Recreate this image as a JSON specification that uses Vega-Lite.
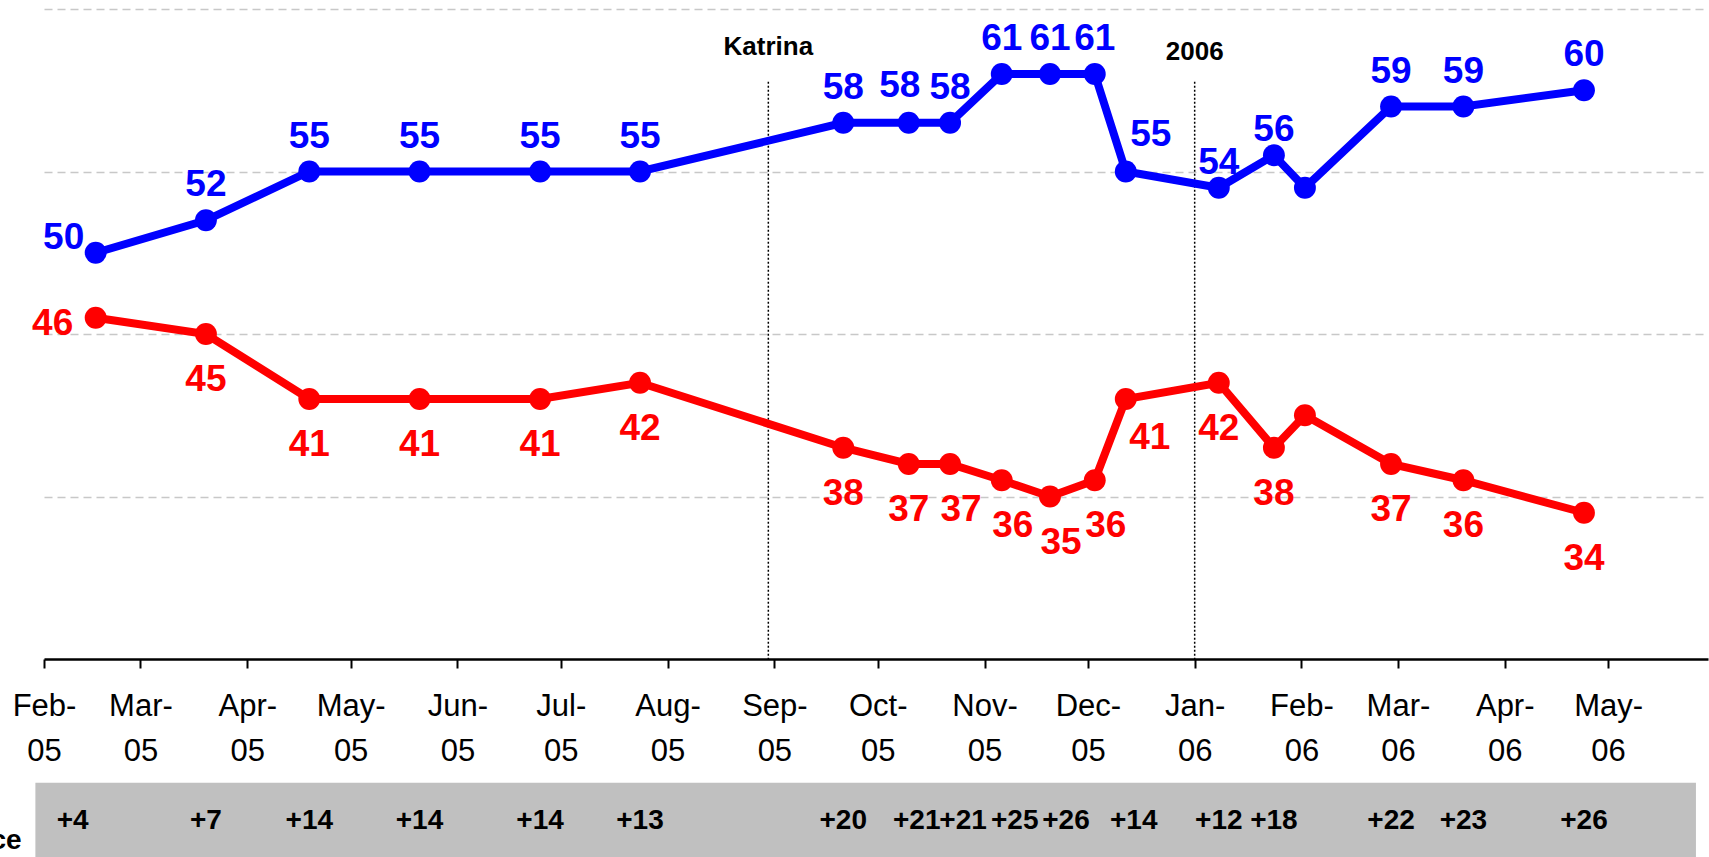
{
  "$schema": "https://vega.github.io/schema/vega-lite/v6.json",
  "width": 1664,
  "height": 650,
  "autosize": {"type": "none"},
  "padding": {"left": 44, "top": 9, "right": 1, "bottom": 198},
  "background": "white",
  "config": {"view": {"stroke": null}, "font": "Liberation Sans"},
  "data": {
    "values": [
      {"date": "2005-02-16", "dem": 50, "rep": 46, "gap": "+4"},
      {"date": "2005-03-20", "dem": 52, "rep": 45, "gap": "+7"},
      {"date": "2005-04-19", "dem": 55, "rep": 41, "gap": "+14"},
      {"date": "2005-05-21", "dem": 55, "rep": 41, "gap": "+14"},
      {"date": "2005-06-25", "dem": 55, "rep": 41, "gap": "+14"},
      {"date": "2005-07-24", "dem": 55, "rep": 42, "gap": "+13"},
      {"date": "2005-09-21", "dem": 58, "rep": 38, "gap": "+20"},
      {"date": "2005-10-10", "dem": 58, "rep": 37, "gap": "+21"},
      {"date": "2005-10-22", "dem": 58, "rep": 37, "gap": "+21"},
      {"date": "2005-11-06", "dem": 61, "rep": 36, "gap": "+25"},
      {"date": "2005-11-20", "dem": 61, "rep": 35, "gap": "+26"},
      {"date": "2005-12-03", "dem": 61, "rep": 36, "gap": null},
      {"date": "2005-12-12", "dem": 55, "rep": 41, "gap": "+14"},
      {"date": "2006-01-08", "dem": 54, "rep": 42, "gap": "+12"},
      {"date": "2006-01-24", "dem": 56, "rep": 38, "gap": "+18"},
      {"date": "2006-02-02", "dem": 54, "rep": 40, "gap": null},
      {"date": "2006-02-27", "dem": 59, "rep": 37, "gap": "+22"},
      {"date": "2006-03-20", "dem": 59, "rep": 36, "gap": "+23"},
      {"date": "2006-04-24", "dem": 60, "rep": 34, "gap": "+26"}
    ],
    "format": {"parse": {"date": "date"}}
  },
  "encoding": {
    "x": {
      "field": "date",
      "type": "temporal",
      "scale": {
        "type": "utc",
        "domain": [
          {"year": 2005, "month": 2, "date": 1, "utc": true},
          {"year": 2006, "month": 5, "date": 30, "utc": true}
        ]
      },
      "axis": {
        "values": [
          {"year": 2005, "month": 2, "date": 1, "utc": true},
          {"year": 2005, "month": 3, "date": 1, "utc": true},
          {"year": 2005, "month": 4, "date": 1, "utc": true},
          {"year": 2005, "month": 5, "date": 1, "utc": true},
          {"year": 2005, "month": 6, "date": 1, "utc": true},
          {"year": 2005, "month": 7, "date": 1, "utc": true},
          {"year": 2005, "month": 8, "date": 1, "utc": true},
          {"year": 2005, "month": 9, "date": 1, "utc": true},
          {"year": 2005, "month": 10, "date": 1, "utc": true},
          {"year": 2005, "month": 11, "date": 1, "utc": true},
          {"year": 2005, "month": 12, "date": 1, "utc": true},
          {"year": 2006, "month": 1, "date": 1, "utc": true},
          {"year": 2006, "month": 2, "date": 1, "utc": true},
          {"year": 2006, "month": 3, "date": 1, "utc": true},
          {"year": 2006, "month": 4, "date": 1, "utc": true},
          {"year": 2006, "month": 5, "date": 1, "utc": true}
        ],
        "labelExpr": "[utcFormat(datum.value, '%b') + '-', utcFormat(datum.value, '%y')]",
        "labelFont": "Liberation Sans",
        "labelFontSize": 31,
        "labelColor": "black",
        "labelBaseline": "top",
        "labelLineHeight": 45,
        "labelPadding": 23,
        "labelAngle": 0,
        "labelOverlap": false,
        "labelFlush": false,
        "labelBound": false,
        "tickSize": 9,
        "tickWidth": 2,
        "tickColor": "black",
        "domainColor": "black",
        "domainWidth": 2.5,
        "grid": false,
        "title": null
      }
    }
  },
  "layer": [
    {
      "data": {"values": [{"d": "2005-08-30T06:00:00Z"}, {"d": "2006-01-01T00:00:00Z"}], "format": {"parse": {"d": "date"}}},
      "mark": {"type": "rule", "color": "black", "strokeWidth": 1.5, "strokeDash": [2, 2]},
      "encoding": {
        "x": {"field": "d", "type": "temporal"},
        "y": {"datum": 60.53, "type": "quantitative", "scale": {"domain": [25, 65], "nice": false, "zero": false}, "axis": {"values": [35, 45, 55, 65], "grid": true, "gridDash": [8, 5], "gridColor": "#c8c8c8", "gridWidth": 1.5, "labels": false, "ticks": false, "domain": false, "title": null}},
        "y2": {"datum": 25}
      }
    },
    {
      "mark": {"type": "line", "color": "#0000FF", "strokeWidth": 8},
      "encoding": {"y": {"field": "dem", "type": "quantitative"}}
    },
    {
      "mark": {"type": "point", "filled": true, "color": "#0000FF", "size": 480, "opacity": 1},
      "encoding": {"y": {"field": "dem", "type": "quantitative"}}
    },
    {
      "mark": {"type": "line", "color": "#FF0000", "strokeWidth": 8},
      "encoding": {"y": {"field": "rep", "type": "quantitative"}}
    },
    {
      "mark": {"type": "point", "filled": true, "color": "#FF0000", "size": 480, "opacity": 1},
      "encoding": {"y": {"field": "rep", "type": "quantitative"}}
    },
    {
      "transform": [{"filter": "indexof(['2005-02-16','2005-10-10','2005-12-12','2006-02-02','2006-01-08','2006-01-24'], utcFormat(datum.date, '%Y-%m-%d')) < 0"}],
      "mark": {"type": "text", "color": "#0000FF", "fontSize": 37, "fontWeight": "bold", "baseline": "middle", "dy": -35},
      "encoding": {"y": {"field": "dem", "type": "quantitative"}, "text": {"field": "dem"}}
    },
    {
      "transform": [{"filter": "utcFormat(datum.date, '%Y-%m-%d') === '2005-10-10'"}],
      "mark": {"type": "text", "color": "#0000FF", "fontSize": 37, "fontWeight": "bold", "baseline": "middle", "dx": -9, "dy": -37},
      "encoding": {"y": {"field": "dem", "type": "quantitative"}, "text": {"field": "dem"}}
    },
    {
      "transform": [{"filter": "indexof(['2006-01-08','2006-01-24'], utcFormat(datum.date, '%Y-%m-%d')) >= 0"}],
      "mark": {"type": "text", "color": "#0000FF", "fontSize": 37, "fontWeight": "bold", "baseline": "middle", "dy": -25},
      "encoding": {"y": {"field": "dem", "type": "quantitative"}, "text": {"field": "dem"}}
    },
    {
      "transform": [{"filter": "utcFormat(datum.date, '%Y-%m-%d') === '2005-02-16'"}],
      "mark": {"type": "text", "color": "#0000FF", "fontSize": 37, "fontWeight": "bold", "baseline": "middle", "dx": -32, "dy": -15},
      "encoding": {"y": {"field": "dem", "type": "quantitative"}, "text": {"field": "dem"}}
    },
    {
      "transform": [{"filter": "utcFormat(datum.date, '%Y-%m-%d') === '2005-12-12'"}],
      "mark": {"type": "text", "color": "#0000FF", "fontSize": 37, "fontWeight": "bold", "baseline": "middle", "dx": 25, "dy": -37},
      "encoding": {"y": {"field": "dem", "type": "quantitative"}, "text": {"field": "dem"}}
    },
    {
      "transform": [{"filter": "indexof(['2005-02-16','2005-10-22','2005-11-06','2005-11-20','2005-12-03','2005-12-12','2006-02-02'], utcFormat(datum.date, '%Y-%m-%d')) < 0"}],
      "mark": {"type": "text", "color": "#FF0000", "fontSize": 37, "fontWeight": "bold", "baseline": "middle", "dy": 46},
      "encoding": {"y": {"field": "rep", "type": "quantitative"}, "text": {"field": "rep"}}
    },
    {
      "transform": [{"filter": "indexof(['2005-10-22','2005-11-06','2005-11-20','2005-12-03'], utcFormat(datum.date, '%Y-%m-%d')) >= 0"}],
      "mark": {"type": "text", "color": "#FF0000", "fontSize": 37, "fontWeight": "bold", "baseline": "middle", "dx": 11, "dy": 46},
      "encoding": {"y": {"field": "rep", "type": "quantitative"}, "text": {"field": "rep"}}
    },
    {
      "transform": [{"filter": "utcFormat(datum.date, '%Y-%m-%d') === '2005-02-16'"}],
      "mark": {"type": "text", "color": "#FF0000", "fontSize": 37, "fontWeight": "bold", "baseline": "middle", "dx": -43, "dy": 6},
      "encoding": {"y": {"field": "rep", "type": "quantitative"}, "text": {"field": "rep"}}
    },
    {
      "transform": [{"filter": "utcFormat(datum.date, '%Y-%m-%d') === '2005-12-12'"}],
      "mark": {"type": "text", "color": "#FF0000", "fontSize": 37, "fontWeight": "bold", "baseline": "middle", "dx": 24, "dy": 39},
      "encoding": {"y": {"field": "rep", "type": "quantitative"}, "text": {"field": "rep"}}
    },
    {
      "data": {"values": [{"d": "2005-08-30T06:00:00Z", "t": "Katrina", "v": 62.17}, {"d": "2006-01-01T00:00:00Z", "t": "2006", "v": 61.86}], "format": {"parse": {"d": "date"}}},
      "mark": {"type": "text", "color": "black", "fontSize": 26, "fontWeight": "bold", "baseline": "alphabetic", "align": "center"},
      "encoding": {
        "x": {"field": "d", "type": "temporal"},
        "y": {"field": "v", "type": "quantitative"},
        "text": {"field": "t"}
      }
    },
    {
      "data": {"values": [{"s": "2005-01-29T12:00:00Z", "e": "2006-05-26T12:00:00Z", "top": 17.39, "bottom": 12}], "format": {"parse": {"s": "date", "e": "date"}}},
      "mark": {"type": "rect", "color": "#c0c0c0"},
      "encoding": {
        "x": {"field": "s", "type": "temporal"},
        "x2": {"field": "e"},
        "y": {"field": "top", "type": "quantitative"},
        "y2": {"field": "bottom"}
      }
    },
    {
      "transform": [{"filter": "isValid(datum.gap) && indexof(['2005-02-16','2005-10-10','2005-10-22','2005-11-06','2005-11-20','2005-12-12'], utcFormat(datum.date, '%Y-%m-%d')) < 0"}],
      "mark": {"type": "text", "color": "black", "fontSize": 28, "fontWeight": "bold", "baseline": "alphabetic", "align": "center"},
      "encoding": {
        "y": {"datum": 14.52, "type": "quantitative"},
        "text": {"field": "gap"}
      }
    },
    {
      "transform": [{"filter": "utcFormat(datum.date, '%Y-%m-%d') === '2005-02-16'"}],
      "mark": {"type": "text", "color": "black", "fontSize": 28, "fontWeight": "bold", "baseline": "alphabetic", "align": "center", "dx": -23},
      "encoding": {
        "y": {"datum": 14.52, "type": "quantitative"},
        "text": {"field": "gap"}
      }
    },
    {
      "transform": [{"filter": "indexof(['2005-10-10','2005-12-12'], utcFormat(datum.date, '%Y-%m-%d')) >= 0"}],
      "mark": {"type": "text", "color": "black", "fontSize": 28, "fontWeight": "bold", "baseline": "alphabetic", "align": "center", "dx": 8},
      "encoding": {
        "y": {"datum": 14.52, "type": "quantitative"},
        "text": {"field": "gap"}
      }
    },
    {
      "transform": [{"filter": "indexof(['2005-10-22','2005-11-06'], utcFormat(datum.date, '%Y-%m-%d')) >= 0"}],
      "mark": {"type": "text", "color": "black", "fontSize": 28, "fontWeight": "bold", "baseline": "alphabetic", "align": "center", "dx": 13},
      "encoding": {
        "y": {"datum": 14.52, "type": "quantitative"},
        "text": {"field": "gap"}
      }
    },
    {
      "transform": [{"filter": "utcFormat(datum.date, '%Y-%m-%d') === '2005-11-20'"}],
      "mark": {"type": "text", "color": "black", "fontSize": 28, "fontWeight": "bold", "baseline": "alphabetic", "align": "center", "dx": 16},
      "encoding": {
        "y": {"datum": 14.52, "type": "quantitative"},
        "text": {"field": "gap"}
      }
    },
    {
      "data": {"values": [{"d": "2005-01-25T12:00:00Z", "t": "Difference", "v": 13.28}], "format": {"parse": {"d": "date"}}},
      "mark": {"type": "text", "color": "black", "fontSize": 28, "fontWeight": "bold", "baseline": "alphabetic", "align": "right"},
      "encoding": {
        "x": {"field": "d", "type": "temporal"},
        "y": {"field": "v", "type": "quantitative"},
        "text": {"field": "t"}
      }
    }
  ]
}
